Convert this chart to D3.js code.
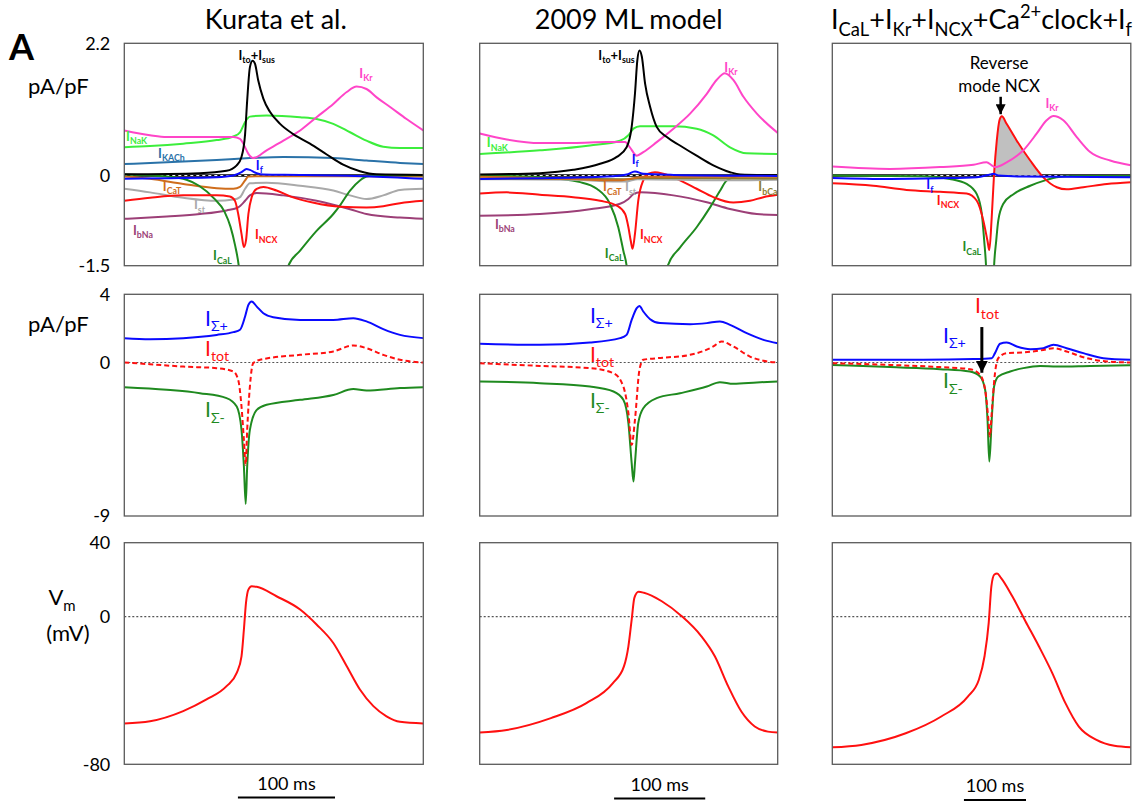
<!DOCTYPE html>
<html><head><meta charset="utf-8">
<script src="https://cdn.jsdelivr.net/npm/d3@7"></script>
<style>body{margin:0;background:#fff}</style>
</head><body>
<script>
// ---------- DATA (time in % of the sweep, currents in pA/pF, Vm in mV) ----------
const columnTitles = ["Kurata et al.", "2009 ML model", "I_{CaL}+I_{Kr}+I_{NCX}+Ca^{2+}clock+I_{f}"];
const sweepMs = [308, 327, 481];          // duration shown in each column
const scaleBarMs = 100;
const scaleBarStart = [38.0, 45.1, 44.1]; // % of sweep where the 100 ms bar starts
const rowDomains = [[-1.5, 2.2], [-9, 4], [-80, 40]];
const rowTicks = [[2.2, 0, -1.5], [4, 0, -9], [40, 0, -80]];

// Column 1: Kurata et al.
const k_Ito  = [[0,0.02],[25.3,0.04],[34.2,0.08],[37.6,0.17],[39.2,0.31],[40.4,0.69],[41.1,1.25],[42.0,1.80],[42.9,1.91],[43.7,1.86],[44.8,1.58],[46.5,1.28],[48.7,1.06],[52.1,0.86],[56.5,0.69],[62.1,0.53],[67.7,0.35],[73.2,0.18],[78.8,0.07],[84.4,0.02],[100,0.01]];
const k_IKr  = [[0,0.75],[8.6,0.67],[14.2,0.64],[25.3,0.64],[36.5,0.64],[38.7,0.61],[39.8,0.53],[41.5,0.36],[43.1,0.29],[47.6,0.42],[53.2,0.58],[58.8,0.75],[64.3,0.97],[69.9,1.19],[74.4,1.39],[77.7,1.48],[81.0,1.44],[84.4,1.30],[88.9,1.14],[94.4,0.94],[100,0.75]];
const k_INaK = [[0,0.47],[8.6,0.49],[19.7,0.53],[30.9,0.59],[36.5,0.65],[38.7,0.72],[40.4,0.89],[42.0,0.98],[47.6,1.0],[58.8,0.97],[64.3,0.94],[69.9,0.86],[75.5,0.72],[81.0,0.58],[86.6,0.48],[92.2,0.46],[100,0.46]];
const k_IKACh= [[0,0.19],[14.2,0.22],[30.9,0.26],[42.0,0.29],[53.2,0.31],[69.9,0.29],[81.0,0.25],[92.2,0.21],[100,0.19]];
const k_If   = [[0,-0.055],[14.2,-0.044],[30.9,-0.028],[36.5,0],[39.2,0.055],[40.9,0.11],[42.0,0.094],[44.3,0.039],[46.5,0.017],[58.8,0.011],[81.0,-0.011],[100,-0.055]];
const k_ICaT = [[0,-0.017],[8.6,-0.055],[19.7,-0.14],[30.9,-0.21],[36.5,-0.22],[38.7,-0.19],[40.4,-0.08],[41.5,-0.017],[47.6,-0.011],[100,-0.017]];
const k_Ist  = [[0,-0.22],[8.6,-0.28],[19.7,-0.37],[30.9,-0.42],[36.5,-0.40],[38.7,-0.36],[40.4,-0.22],[42.0,-0.13],[47.6,-0.12],[58.8,-0.17],[69.9,-0.25],[75.5,-0.33],[81.0,-0.39],[86.6,-0.33],[92.2,-0.24],[100,-0.22]];
const k_INCX = [[0,-0.42],[8.6,-0.37],[19.7,-0.33],[30.9,-0.33],[35.3,-0.35],[37.0,-0.42],[38.1,-0.64],[39.2,-0.97],[40.0,-1.19],[40.7,-1.08],[41.5,-0.64],[42.6,-0.36],[44.3,-0.22],[46.5,-0.19],[50.9,-0.25],[55.7,-0.35],[63.0,-0.45],[72.4,-0.52],[81.0,-0.53],[86.6,-0.51],[92.2,-0.46],[100,-0.42]];
const k_IbNa = [[0,-0.72],[14.2,-0.68],[25.3,-0.64],[34.2,-0.58],[38.1,-0.53],[40.4,-0.42],[42.0,-0.33],[44.3,-0.29],[53.2,-0.33],[64.3,-0.42],[75.5,-0.56],[81.0,-0.64],[92.2,-0.70],[100,-0.72]];
const k_ICaL = [[0,0.017],[14.2,-0.017],[20.8,-0.07],[25.0,-0.17],[30.0,-0.38],[33.5,-0.60],[35.5,-0.85],[37.0,-1.15],[38.3,-1.51],[40,-2.5],[43,-3.5],[48,-3],[52,-2],[54.8,-1.51],[58.8,-1.25],[64.3,-0.92],[69.9,-0.64],[72.1,-0.5],[75.5,-0.25],[78.8,-0.083],[81.0,-0.017],[84.4,0.006],[100,0.006]];
const k_sumPos = [[0,1.43],[8.6,1.37],[19.7,1.43],[30.9,1.62],[36.5,1.78],[38.7,1.92],[40.4,2.70],[41.5,3.38],[42.6,3.58],[44.3,3.28],[46.5,2.89],[49.8,2.66],[58.8,2.50],[69.9,2.50],[76.6,2.60],[81.0,2.41],[86.6,1.96],[92.2,1.62],[100,1.43]];
const k_tot    = [[0,0],[8.6,-0.10],[19.7,-0.24],[30.9,-0.33],[36.5,-0.53],[38.1,-1.02],[39.2,-2.58],[40.0,-4.54],[40.6,-6.0],[41.1,-3.95],[42.0,-1.41],[43.1,-0.04],[45.4,0.16],[58.8,0.45],[69.9,0.65],[76.6,1.0],[81.0,0.84],[86.6,0.45],[92.2,0.16],[100,0]];
const k_sumNeg = [[0,-1.45],[14.2,-1.60],[25.3,-1.80],[34.2,-2.09],[37.6,-2.58],[39.2,-3.95],[40.0,-6.1],[40.6,-8.29],[41.1,-6.1],[42.0,-3.95],[44.3,-2.78],[47.6,-2.48],[58.8,-2.19],[69.9,-1.90],[76.6,-1.56],[81.0,-1.64],[92.2,-1.50],[100,-1.45]];
const k_Vm = [[0,-57.9],[8.6,-56.7],[19.7,-51.2],[27.5,-44.9],[34.2,-37.7],[37.6,-30.5],[39.2,-21.5],[40.0,-7.0],[40.7,7.4],[41.5,14.6],[42.6,16.4],[44.3,16.1],[50.9,11.0],[58.8,3.8],[64.3,-4.3],[69.9,-14.3],[74.4,-26.9],[78.8,-39.5],[83.3,-48.5],[87.7,-54.0],[92.2,-57.0],[100,-57.9]];

// Column 2: 2009 ML model
const m_Ito  = [[0,0.017],[20.2,0.04],[31.4,0.095],[40.4,0.195],[46.0,0.31],[49.3,0.47],[51.0,0.81],[52.1,1.36],[52.9,1.92],[53.6,2.08],[54.4,1.98],[55.5,1.53],[57.2,1.14],[59.4,0.81],[62.8,0.64],[67.2,0.50],[72.8,0.33],[78.4,0.17],[84.0,0.056],[87.4,0.017],[100,0.006]];
const m_IKr  = [[0,0.70],[9.1,0.60],[20.2,0.54],[31.4,0.54],[42.6,0.556],[48.8,0.556],[50.4,0.47],[52.7,0.33],[54.9,0.39],[59.4,0.556],[65.0,0.78],[70.6,1.03],[76.2,1.36],[79.5,1.59],[82.3,1.70],[85.1,1.59],[88.5,1.31],[93.0,1.03],[100,0.71]];
const m_INaK = [[0,0.36],[20.2,0.42],[37.0,0.50],[47.1,0.58],[49.9,0.67],[51.6,0.78],[53.8,0.82],[65.0,0.82],[72.8,0.78],[78.4,0.67],[84.0,0.47],[89.6,0.37],[100,0.36]];
const m_If   = [[0,-0.056],[20.2,-0.045],[42.6,-0.017],[49.3,0.017],[52.1,0.067],[54.9,0.028],[65.0,0.011],[100,-0.006]];
const m_ICaT = [[0,-0.02],[20,-0.04],[37,-0.07],[47,-0.08],[52,-0.04],[55,-0.02],[100,-0.02]];
const m_Ist  = [[0,-0.06],[30,-0.07],[49,-0.10],[53,-0.06],[80,-0.08],[100,-0.07]];
const m_IbCa = [[0,-0.05],[50,-0.06],[53,-0.04],[100,-0.05]];
const m_INCX = [[0,-0.30],[9.1,-0.28],[20.2,-0.32],[31.4,-0.36],[40.4,-0.42],[46.0,-0.50],[48.8,-0.64],[49.9,-0.86],[50.7,-1.09],[51.3,-1.22],[52.1,-0.97],[53.2,-0.42],[54.9,-0.08],[56.6,0.03],[58.8,0.056],[61.6,0.03],[67.2,-0.08],[72.8,-0.22],[78.4,-0.36],[85.1,-0.45],[90.7,-0.42],[95.2,-0.36],[100,-0.32]];
const m_IbNa = [[0,-0.67],[20.2,-0.64],[37.0,-0.56],[47.1,-0.47],[49.9,-0.39],[51.6,-0.31],[53.8,-0.28],[65.0,-0.33],[76.2,-0.445],[84.0,-0.556],[93.0,-0.64],[100,-0.657]];
const m_ICaL = [[0,0],[20.2,-0.028],[33.7,-0.11],[39.3,-0.22],[43.7,-0.47],[46.5,-0.86],[48.2,-1.25],[49.3,-1.5],[51,-2.5],[54,-3.5],[58,-3],[61,-2],[63.1,-1.5],[67.2,-1.2],[72.8,-0.86],[77.3,-0.53],[80.7,-0.25],[82.9,-0.083],[87.4,-0.011],[100,-0.011]];
const m_sumPos = [[0,1.10],[20.2,1.04],[37.0,1.17],[47.1,1.43],[49.3,1.62],[51.0,2.50],[52.7,3.19],[53.6,3.32],[54.9,2.99],[57.2,2.54],[60.5,2.31],[70.6,2.25],[76.2,2.31],[80.6,2.41],[84.0,2.21],[89.6,1.72],[95.2,1.33],[100,1.13]];
const m_tot    = [[0,-0.04],[20.2,-0.20],[37.0,-0.33],[44.9,-0.63],[48.2,-1.41],[49.9,-2.97],[51.0,-4.83],[52.1,-3.36],[53.6,-0.43],[54.9,0.16],[59.4,0.25],[70.6,0.45],[78.4,0.94],[81.2,1.23],[85.1,0.94],[90.7,0.35],[95.2,0.10],[100,0]];
const m_sumNeg = [[0,-1.11],[20.2,-1.21],[37.0,-1.41],[44.9,-1.70],[48.2,-2.19],[49.9,-3.56],[51.0,-5.90],[51.6,-6.98],[52.1,-5.90],[53.2,-3.56],[54.9,-2.68],[59.4,-2.09],[67.2,-1.80],[76.2,-1.41],[80.6,-1.15],[85.1,-1.25],[93.0,-1.17],[100,-1.11]];
const m_Vm = [[0,-62.8],[9.1,-61.4],[23.9,-55.0],[35.8,-46.9],[44.7,-36.0],[48.4,-27.0],[49.9,-16.1],[51.0,-1.6],[51.9,10.1],[53.3,13.4],[55.1,12.9],[61.1,8.3],[67.8,0.2],[74.4,-10.7],[78.9,-21.5],[83.4,-37.8],[87.8,-51.4],[92.3,-59.5],[96.7,-62.3],[100,-62.8]];

// Column 3: ICaL+IKr+INCX+Ca2+clock+If
const c_IKr  = [[0,0.15],[19.3,0.11],[36.1,0.14],[47.3,0.18],[51.7,0.22],[53.4,0.17],[54.5,0.14],[58.4,0.22],[64.0,0.42],[68.5,0.70],[71.8,0.92],[74.1,0.99],[77.4,0.92],[81.9,0.64],[86.4,0.39],[93.1,0.25],[100,0.17]];
const c_INCX = [[0,-0.13],[13.7,-0.17],[24.9,-0.24],[36.1,-0.27],[45.0,-0.30],[48.4,-0.42],[50.6,-0.75],[52.0,-1.09],[52.6,-1.24],[53.4,-0.70],[54.2,0.03],[55.1,0.58],[56.0,0.92],[56.8,0.985],[58.4,0.86],[61.8,0.58],[66.3,0.25],[70.7,-0.03],[75.2,-0.195],[78.5,-0.23],[84.1,-0.195],[92.0,-0.14],[100,-0.11]];
const c_ICaL = [[0,0],[30.5,-0.011],[39.4,-0.056],[45.0,-0.14],[48.4,-0.31],[50.1,-0.64],[50.9,-1.09],[51.5,-1.5],[52.5,-3],[53.5,-2.5],[54.2,-1.5],[54.9,-1.09],[55.6,-0.75],[57.3,-0.47],[60.7,-0.31],[66.3,-0.17],[71.8,-0.072],[75.2,-0.028],[80.8,-0.006],[100,-0.006]];
const c_If   = [[0,-0.039],[19.3,-0.056],[36.1,-0.045],[48.4,-0.028],[52.9,0.017],[54.0,0.028],[55.6,0],[64.0,-0.017],[100,-0.028]];
const c_sumPos = [[0,0.16],[30.5,0.16],[47.3,0.20],[53.4,0.25],[54.5,0.55],[56.2,1.10],[58.4,1.17],[61.8,0.94],[66.3,0.78],[70.7,0.84],[74.1,1.04],[78.5,0.84],[84.1,0.55],[90.8,0.25],[100,0.16]];
const c_tot    = [[0,-0.04],[19.3,-0.14],[36.1,-0.27],[46.1,-0.39],[49.5,-0.72],[51.2,-1.60],[52.3,-3.36],[52.8,-4.34],[53.4,-2.97],[54.5,-0.63],[55.6,0.25],[58.4,0.55],[64.0,0.59],[70.7,0.74],[74.1,0.84],[78.5,0.65],[84.1,0.31],[92.0,0.06],[100,0]];
const c_sumNeg = [[0,-0.14],[19.3,-0.27],[36.1,-0.39],[46.1,-0.53],[49.5,-0.82],[51.2,-1.60],[52.0,-3.36],[52.6,-5.81],[53.4,-3.36],[54.2,-1.41],[55.6,-0.82],[59.6,-0.53],[64,-0.33],[69.6,-0.20],[75.2,-0.235],[86.4,-0.20],[100,-0.16]];
const c_Vm = [[0,-70.8],[9.7,-69.5],[24.6,-63.2],[36.5,-54.1],[45.4,-43.3],[49.1,-34.2],[51.0,-21.5],[52.4,-3.4],[53.3,16.5],[54.3,22.8],[55.2,23.3],[56.5,21.0],[60.3,11.0],[64.7,-2.5],[69.2,-16.1],[73.7,-30.6],[78.1,-46.9],[82.6,-59.6],[88.5,-66.8],[94.5,-70.0],[100,-70.8]];

// ---------- STYLE / LAYOUT ----------
const C = {ito:"#000000", kr:"#ff45c8", nak:"#3cee3c", kach:"#2a72a8", f:"#0a0aff", cat:"#cf6d1c",
           st:"#a9a9a9", ncx:"#ff1010", bna:"#9c3f77", cal:"#1f8a1f", bca:"#8c7c30",
           pos:"#0a0aff", tot:"#ff1010", neg:"#1f8a1f", vm:"#ff1010"};
const colLeft = [124.3, 479.7, 832.3], colWidth = [299, 298, 298.5];
const rowTop = [43.3, 294.3, 542.7], rowHeight = [222.4, 221.7, 221.6];
const FONT = "Lato, 'Open Sans', 'DejaVu Sans', sans-serif";

const series = [
  // row, col, data, color, dash
  [0,0,k_IKACh,C.kach],[0,0,k_INaK,C.nak],[0,0,k_IKr,C.kr],[0,0,k_IbNa,C.bna],[0,0,k_Ist,C.st],[0,0,k_ICaT,C.cat],[0,0,k_ICaL,C.cal],[0,0,k_INCX,C.ncx],[0,0,k_Ito,C.ito],[0,0,k_If,C.f],
  [0,1,m_INaK,C.nak],[0,1,m_IKr,C.kr],[0,1,m_IbNa,C.bna],[0,1,m_ICaL,C.cal],[0,1,m_INCX,C.ncx],[0,1,m_Ito,C.ito],[0,1,m_Ist,C.st],[0,1,m_IbCa,C.bca],[0,1,m_ICaT,C.cat],[0,1,m_If,C.f],
  [0,2,c_ICaL,C.cal],[0,2,c_INCX,C.ncx],[0,2,c_IKr,C.kr],[0,2,c_If,C.f],
  [1,0,k_sumNeg,C.neg],[1,0,k_sumPos,C.pos],[1,0,k_tot,C.tot,"5,3"],
  [1,1,m_sumNeg,C.neg],[1,1,m_sumPos,C.pos],[1,1,m_tot,C.tot,"5,3"],
  [1,2,c_sumNeg,C.neg],[1,2,c_sumPos,C.pos],[1,2,c_tot,C.tot,"5,3"],
  [2,0,k_Vm,C.vm],[2,1,m_Vm,C.vm],[2,2,c_Vm,C.vm]
];

// labels: row, col, t(%), value, markup, color, size, weight, anchor
const labels = [
  [0,0,38.2,1.93,"I_{to}+I_{sus}",C.ito,13,700],
  [0,0,78.6,1.63,"I_{Kr}",C.kr,13,700],
  [0,0,0.6,0.58,"I_{NaK}",C.nak,13,700],
  [0,0,11.3,0.30,"I_{KACh}",C.kach,13,700],
  [0,0,44.0,0.10,"I_{f}",C.f,13,700],
  [0,0,12.9,-0.25,"I_{CaT}",C.cat,13,700],
  [0,0,23.3,-0.56,"I_{st}",C.st,13,700],
  [0,0,2.9,-0.99,"I_{bNa}",C.bna,13,700],
  [0,0,43.7,-1.06,"I_{NCX}",C.ncx,13,700],
  [0,0,29.7,-1.41,"I_{CaL}",C.cal,13,700],
  [0,1,39.8,1.93,"I_{to}+I_{sus}",C.ito,13,700],
  [0,1,82.1,1.73,"I_{Kr}",C.kr,13,700],
  [0,1,2.4,0.47,"I_{NaK}",C.nak,13,700],
  [0,1,51.0,0.19,"I_{f}",C.f,13,700],
  [0,1,41.4,-0.26,"I_{CaT}",C.cat,13,700],
  [0,1,48.8,-0.26,"I_{st}",C.st,13,700],
  [0,1,93.5,-0.26,"I_{bCa}",C.bca,13,700],
  [0,1,5.1,-0.89,"I_{bNa}",C.bna,13,700],
  [0,1,53.8,-1.06,"I_{NCX}",C.ncx,13,700],
  [0,1,42.0,-1.37,"I_{CaL}",C.cal,13,700],
  [0,2,71.4,1.13,"I_{Kr}",C.kr,13,700],
  [0,2,31.5,-0.23,"I_{f}",C.f,13,700],
  [0,2,35.0,-0.49,"I_{NCX}",C.ncx,13,700],
  [0,2,43.6,-1.26,"I_{CaL}",C.cal,13,700],
  [0,2,55.9,1.77,"Reverse","#000",17,400,"middle"],
  [0,2,55.9,1.39,"mode NCX","#000",17,400,"middle"],
  [1,0,27.0,2.14,"I_{Σ+}",C.pos,21,400],
  [1,0,27.0,0.39,"I_{tot}",C.tot,21,400],
  [1,0,27.0,-3.2,"I_{Σ-}",C.neg,21,400],
  [1,1,37.0,2.32,"I_{Σ+}",C.pos,21,400],
  [1,1,37.0,0.05,"I_{tot}",C.tot,21,400],
  [1,1,37.0,-2.66,"I_{Σ-}",C.neg,21,400],
  [1,2,47.8,2.9,"I_{tot}",C.tot,21,400],
  [1,2,37.1,1.15,"I_{Σ+}",C.pos,21,400],
  [1,2,37.1,-1.5,"I_{Σ-}",C.neg,21,400]
];
// arrows: row, col, t, v from, v to, stroke width
const arrows = [[0,2,56.4,1.31,1.02,2.5],[1,2,50.1,2.08,-0.6,3]];

// ---------- DRAW ----------
const svg = d3.select("body").append("svg").attr("width",1136).attr("height",805)
  .style("font-family", FONT);
const defs = svg.append("defs");
defs.append("marker").attr("id","ah").attr("viewBox","0 0 10 10").attr("refX",10).attr("refY",5)
  .attr("markerWidth",4).attr("markerHeight",4).attr("orient","auto")
  .append("path").attr("d","M0,0L10,5L0,10Z").attr("fill","#000");

function rich(textSel, markup, size){
  const re = /([_^])\{([^}]*)\}|([^_^]+)/g; let m, cur = 0;
  while((m = re.exec(markup))){
    if(m[3]){ textSel.append("tspan").attr("font-size",size).attr("dy",-cur).text(m[3]); cur = 0; }
    else { const target = m[1]==="_" ? 0.26*size : -0.42*size;
      textSel.append("tspan").attr("font-size",size*0.68).attr("dy",target-cur).text(m[2]); cur = target; }
  }
}

const panels = {};
for(let r=0;r<3;r++) for(let c=0;c<3;c++){
  const g = svg.append("g").attr("transform",`translate(${colLeft[c]},${rowTop[r]})`);
  const x = d3.scaleLinear([0,100],[0,colWidth[c]]);
  const y = d3.scaleLinear(rowDomains[r],[rowHeight[r],0]);
  const id = `clip${r}${c}`;
  defs.append("clipPath").attr("id",id).append("rect").attr("width",colWidth[c]).attr("height",rowHeight[r]);
  const plot = g.append("g").attr("clip-path",`url(#${id})`);
  if(r===0){
    plot.append("line").attr("x1",0).attr("x2",colWidth[c]).attr("y1",y(0)).attr("y2",y(0)).attr("stroke","#000").attr("stroke-width",2.4);
    plot.append("line").attr("x1",0).attr("x2",colWidth[c]).attr("y1",y(0)).attr("y2",y(0)).attr("stroke","#fff").attr("stroke-width",1).attr("stroke-dasharray","3,3");
  } else {
    plot.append("line").attr("x1",0).attr("x2",colWidth[c]).attr("y1",y(0)).attr("y2",y(0)).attr("stroke","#555").attr("stroke-width",1.2).attr("stroke-dasharray","2,2");
  }
  panels[`${r}${c}`] = {g, plot, x, y};
  if(c===0){
    const ax = g.append("g").call(d3.axisLeft(y).tickValues(rowTicks[r]).tickSize(0).tickPadding(14).tickFormat(d=>String(d)));
    ax.select(".domain").remove();
    ax.selectAll("text").attr("font-size",18).attr("font-family",FONT).attr("fill","#000");
  }
}

// shaded reverse-mode NCX area (column 3, top row)
{
  const p = panels["02"];
  p.plot.append("path").datum(c_INCX)
    .attr("d", d3.area().x(d=>p.x(d[0])).y0(p.y(0)).y1(d=>p.y(Math.max(d[1],0))).curve(d3.curveMonotoneX))
    .attr("fill","#c0c0c0");
}

const lineGen = (p)=> d3.line().x(d=>p.x(d[0])).y(d=>p.y(d[1])).curve(d3.curveMonotoneX);
series.forEach(([r,c,data,color,dash])=>{
  const p = panels[`${r}${c}`];
  p.plot.append("path").datum(data).attr("d",lineGen(p)).attr("fill","none")
    .attr("stroke",color).attr("stroke-width",2).attr("stroke-linejoin","round")
    .attr("stroke-dasharray",dash||null);
});

labels.forEach(([r,c,t,v,mk,color,size,weight,anchor])=>{
  const p = panels[`${r}${c}`];
  const t0 = p.g.append("text").attr("x",p.x(t)).attr("y",p.y(v)).attr("fill",color)
    .attr("font-weight",weight).attr("text-anchor",anchor||"start");
  rich(t0, mk, size);
});

arrows.forEach(([r,c,t,v1,v2,w])=>{
  const p = panels[`${r}${c}`];
  p.g.append("line").attr("x1",p.x(t)).attr("x2",p.x(t)).attr("y1",p.y(v1)).attr("y2",p.y(v2))
    .attr("stroke","#000").attr("stroke-width",w).attr("marker-end","url(#ah)");
});

// frames
for(let r=0;r<3;r++) for(let c=0;c<3;c++){
  svg.append("rect").attr("x",colLeft[c]).attr("y",rowTop[r]).attr("width",colWidth[c]).attr("height",rowHeight[r])
    .attr("fill","none").attr("stroke","#5a5a5a").attr("stroke-width",1.3);
}

// titles
columnTitles.forEach((tt,c)=>{
  const t = svg.append("text").attr("x",colLeft[c]+colWidth[c]/2 + [2,0,0][c]).attr("y",29).attr("text-anchor","middle").attr("fill","#000");
  rich(t, tt, 27);
});
svg.append("text").attr("x",9).attr("y",60).attr("font-size",36).attr("font-weight",700).text("A");

// y unit labels
svg.append("text").attr("x",28).attr("y",94).attr("font-size",22).text("pA/pF");
svg.append("text").attr("x",28).attr("y",332).attr("font-size",22).text("pA/pF");
{ const t = svg.append("text").attr("x",62).attr("y",605).attr("text-anchor","middle"); rich(t,"V_{m}",22); }
svg.append("text").attr("x",68).attr("y",641).attr("text-anchor","middle").attr("font-size",22).text("(mV)");

// scale bars
for(let c=0;c<3;c++){
  const p = panels[`2${c}`];
  const ms = d3.scaleLinear([0,sweepMs[c]],[0,colWidth[c]]);
  const x0 = colLeft[c] + p.x(scaleBarStart[c]);
  const x1 = x0 + ms(scaleBarMs);
  const yb = [797.5,798.5,800][c];
  svg.append("line").attr("x1",x0).attr("x2",x1).attr("y1",yb).attr("y2",yb).attr("stroke","#000").attr("stroke-width",2);
  svg.append("text").attr("x",(x0+x1)/2).attr("y",yb-8).attr("text-anchor","middle").attr("font-size",18).text(`${scaleBarMs} ms`);
}
</script>
</body></html>
